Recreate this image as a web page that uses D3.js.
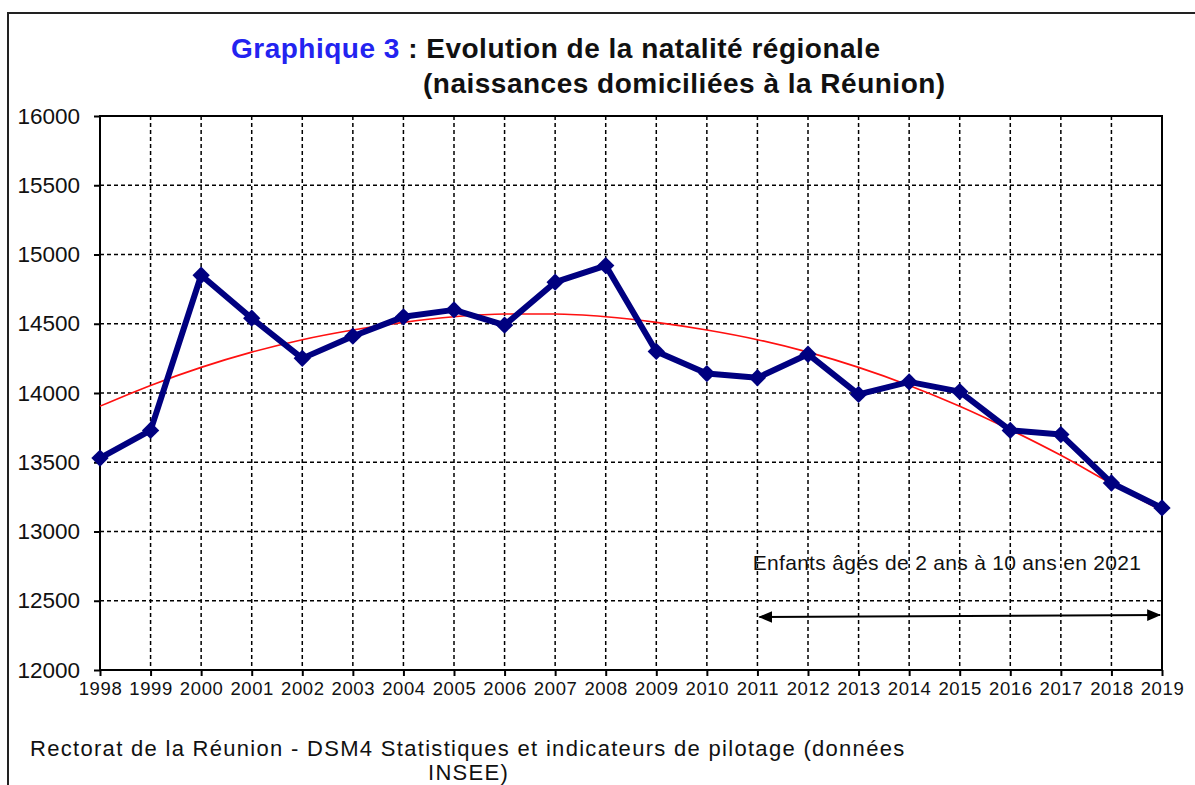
<!DOCTYPE html>
<html>
<head>
<meta charset="utf-8">
<script src="https://cdn.jsdelivr.net/npm/d3@7"></script>
<style>
body { margin: 0; background: #fff; }
svg text { font-family: "Liberation Sans", Arial, sans-serif; }
</style>
</head>
<body>
<svg id="chart" width="1195" height="785"></svg>
<script>
// naissances domiciliees
var years = [1998, 1999, 2000, 2001, 2002, 2003, 2004, 2005, 2006, 2007, 2008,
	2009, 2010, 2011, 2012, 2013, 2014, 2015, 2016, 2017, 2018, 2019];
var births = [13530, 13730, 14850, 14540, 14250, 14410, 14550, 14600, 14490, 14800, 14920,
	14300, 14140, 14110, 14280, 13990, 14080, 14010, 13730, 13700, 13350, 13170];
// red polynomial trend line, read at each year
var trend = [13905, 14055, 14185, 14295, 14385, 14455, 14510, 14550, 14570, 14570, 14550,
	14510, 14455, 14385, 14295, 14185, 14055, 13905, 13735, 13550, 13345, 13150];
var yTicks = [12000, 12500, 13000, 13500, 14000, 14500, 15000, 15500, 16000];
var arrowSpan = [2011, 2019];

var svg = d3.select('#chart');

// plot box (don't call these top/left, window.top is read-only)
var plotL = 100, plotR = 1162, plotT = 116, plotB = 670;

var x = d3.scaleLinear().domain([1998, 2019]).range([plotL, plotR]);
var y = d3.scaleLinear().domain([12000, 16000]).range([plotB, plotT]);

// outer frame (runs off the right and bottom edges)
svg.append('path')
	.attr('d', 'M1200,13 L8,13 L8,790')
	.attr('fill', 'none')
	.attr('stroke', '#222')
	.attr('stroke-width', 2);

// title
var title = svg.append('text')
	.attr('x', 231)
	.attr('y', 58)
	.style('font-size', '28px')
	.style('font-weight', 'bold')
	.style('letter-spacing', '0.5px');
title.append('tspan').attr('fill', '#2323f0').text('Graphique 3');
title.append('tspan').attr('fill', '#111').text(' : Evolution de la natalité régionale');
svg.append('text')
	.attr('x', 423)
	.attr('y', 93)
	.attr('fill', '#111')
	.style('font-size', '28px')
	.style('font-weight', 'bold')
	.style('letter-spacing', '0.5px')
	.text('(naissances domiciliées à la Réunion)');

// dashed grid
svg.append('g').selectAll('line').data(years.slice(1, -1)).enter()
	.append('line')
	.attr('x1', function(d){return x(d)})
	.attr('x2', function(d){return x(d)})
	.attr('y1', plotT)
	.attr('y2', plotB)
	.attr('stroke', '#000')
	.attr('stroke-width', 1.5)
	.attr('stroke-dasharray', '4,3');
svg.append('g').selectAll('line').data(yTicks.slice(1, -1)).enter()
	.append('line')
	.attr('x1', plotL)
	.attr('x2', plotR)
	.attr('y1', function(d){return y(d)})
	.attr('y2', function(d){return y(d)})
	.attr('stroke', '#000')
	.attr('stroke-width', 1.5)
	.attr('stroke-dasharray', '4,3');

// plot frame
svg.append('rect')
	.attr('x', plotL).attr('y', plotT)
	.attr('width', plotR - plotL).attr('height', plotB - plotT)
	.attr('fill', 'none')
	.attr('stroke', '#000')
	.attr('stroke-width', 2);

// axes
var yAxis = svg.append('g')
	.attr('transform', 'translate(' + plotL + ',0)')
	.call(d3.axisLeft(y).tickValues(yTicks).tickSize(6).tickPadding(14).tickFormat(d3.format('d')));
yAxis.select('.domain').remove();
yAxis.selectAll('line').attr('stroke-width', 2);
yAxis.selectAll('text').style('font-size', '22.5px').attr('fill', '#111')
	.attr('font-family', null);

var xAxis = svg.append('g')
	.attr('transform', 'translate(0,' + plotB + ')')
	.call(d3.axisBottom(x).tickValues(years).tickSize(6).tickPadding(6).tickFormat(d3.format('d')));
xAxis.select('.domain').remove();
xAxis.selectAll('line').attr('stroke-width', 2);
xAxis.selectAll('text').style('font-size', '18.5px').attr('fill', '#111')
	.attr('font-family', null)
	.style('letter-spacing', '0.6px');

// trend line
var trendLine = d3.line()
	.x(function(d, i){return x(years[i])})
	.y(function(d){return y(d)})
	.curve(d3.curveMonotoneX);
svg.append('path')
	.attr('d', trendLine(trend))
	.attr('fill', 'none')
	.attr('stroke', '#ff1010')
	.attr('stroke-width', 1.6);

// births series
var line = d3.line()
	.x(function(d, i){return x(years[i])})
	.y(function(d){return y(d)});
svg.append('path')
	.attr('d', line(births))
	.attr('fill', 'none')
	.attr('stroke', '#000080')
	.attr('stroke-width', 6)
	.attr('stroke-linejoin', 'round');

svg.append('g').selectAll('path').data(births).enter()
	.append('path')
	.attr('d', d3.symbol().type(d3.symbolSquare).size(150))
	.attr('transform', function(d, i){return 'translate(' + x(years[i]) + ',' + y(d) + ') rotate(45)'})
	.attr('fill', '#000080');

// annotation
svg.append('text')
	.attr('x', 947)
	.attr('y', 570)
	.attr('text-anchor', 'middle')
	.attr('fill', '#111')
	.style('font-size', '21px')
	.style('letter-spacing', '0.3px')
	.text('Enfants âgés de 2 ans à 10 ans en 2021');

var defs = svg.append('defs');
defs.append('marker')
	.attr('id', 'arrowEnd')
	.attr('viewBox', '0 0 12 10')
	.attr('refX', 11).attr('refY', 5)
	.attr('markerWidth', 7).attr('markerHeight', 6)
	.attr('markerUnits', 'strokeWidth')
	.attr('orient', 'auto-start-reverse')
	.append('path')
	.attr('d', 'M0,0 L12,5 L0,10 Z')
	.attr('fill', '#000');

svg.append('line')
	.attr('x1', x(arrowSpan[0]) + 2)
	.attr('x2', x(arrowSpan[1]) - 2)
	.attr('y1', 617)
	.attr('y2', 615)
	.attr('stroke', '#000')
	.attr('stroke-width', 2)
	.attr('marker-start', 'url(#arrowEnd)')
	.attr('marker-end', 'url(#arrowEnd)');

// source
svg.append('text')
	.attr('x', 30)
	.attr('y', 756)
	.attr('fill', '#111')
	.style('font-size', '22px')
	.style('letter-spacing', '1.3px')
	.text('Rectorat de la Réunion - DSM4 Statistiques et indicateurs de pilotage (données');
svg.append('text')
	.attr('x', 428)
	.attr('y', 780)
	.attr('fill', '#111')
	.style('font-size', '22px')
	.style('letter-spacing', '1.3px')
	.text('INSEE)');
</script>
</body>
</html>
